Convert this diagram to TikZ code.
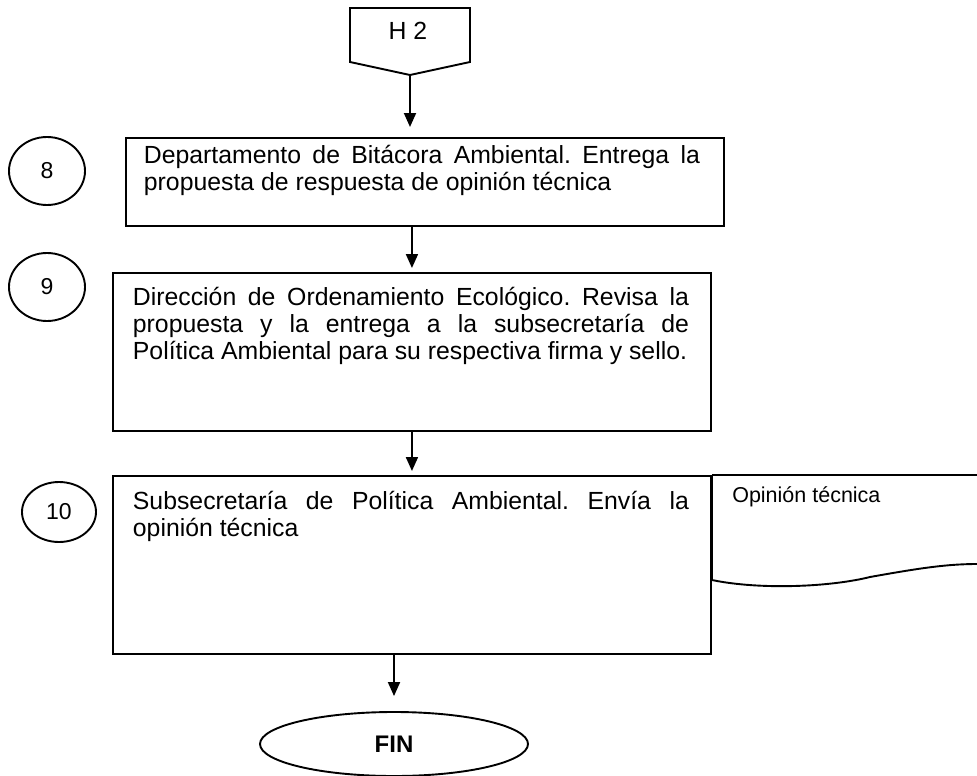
\documentclass[tikz,border=0pt]{standalone}
\usepackage{fontspec}
\setmainfont{Liberation Sans}
\usetikzlibrary{arrows.meta,shapes.geometric}
\tolerance=10000
\hbadness=10000
\hyphenpenalty=10000
\frenchspacing

\tikzset{
 stepbox/.style={draw,inner sep=0pt,anchor=north west},
 steptext/.style={inner sep=0pt,anchor=north west,text width=556pt,align=justify},
 numcirc/.style={draw,ellipse,inner sep=0pt,font=\fontsize{23}{26}\selectfont},
}

\begin{document}
\begin{tikzpicture}[x=1pt,y=-1pt,>={Triangle[length=14pt,width=12pt]},line width=1.9pt,font=\fontsize{24.8}{27}\selectfont]
\useasboundingbox (0,0) rectangle (977,776);
\draw (350,8) -- (470,8) -- (470,62) -- (410,75) coordinate (h2tip) -- (350,62) -- cycle;
\node (h2) at (408,31) {H 2};
\foreach \n/\x/\y/\w/\h in {8/47/171/76pt/68pt,9/47/287/76pt/68pt,10/59/512/74pt/60pt}
 \node[numcirc,minimum width=\w,minimum height=\h] (c\n) at (\x,\y) {\n};
\node[stepbox,minimum width=598pt,minimum height=88pt] (b8) at (125,137) {};
\node[stepbox,minimum width=598pt,minimum height=158pt] (b9) at (112,272) {};
\node[stepbox,minimum width=598pt,minimum height=178pt] (b10) at (112,475) {};
\node[steptext] (t8) at ([xshift=18pt,yshift=-4pt]b8.north west)
 {\rule{0pt}{22pt}Departamento de Bitácora Ambiental. Entrega la\linebreak propuesta de respuesta de opinión técnica};
\node[steptext] (t9) at ([xshift=20pt,yshift=-11pt]b9.north west)
 {\rule{0pt}{22pt}Dirección de Ordenamiento Ecológico. Revisa la\linebreak propuesta y la entrega a la subsecretaría de\linebreak Política Ambiental para su respectiva firma y sello.};
\node[steptext] (t10) at ([xshift=20pt,yshift=-12pt]b10.north west)
 {\rule{0pt}{22pt}Subsecretaría de Política Ambiental. Envía la\linebreak opinión técnica};
\draw (b10.north east) -- (977,475);
\draw (b10.north east) -- ++(0,105) .. controls (760,590) and (830,587) .. (870,577)
 .. controls (915,569) and (945,564) .. (977,564);
\node[anchor=west,font=\fontsize{21.5}{24}\selectfont] (op) at (728,497) {Opinión técnica};
\node[draw,ellipse,minimum width=268pt,minimum height=64pt,font=\bfseries\fontsize{24}{26}\selectfont] (fin) at (394,744) {FIN};
\draw[->,shorten >=10pt] (h2tip) -- (h2tip |- b8.north);
\draw[->,shorten >=4pt] (b9.north |- b8.south) -- (b9.north);
\draw[->,shorten >=4pt] (b9.south) -- (b10.north);
\draw[->,shorten >=15pt] (fin.north |- b10.south) -- (fin.north);
\end{tikzpicture}
\end{document}
